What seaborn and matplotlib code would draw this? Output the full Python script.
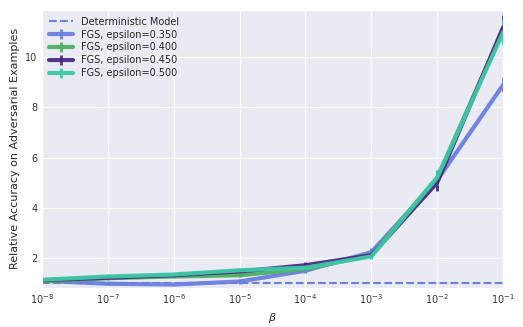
import numpy as np
import matplotlib
matplotlib.use('Agg')
import matplotlib.pyplot as plt
import seaborn as sns

sns.set_style('darkgrid')
plt.rcParams['font.family'] = ['DejaVu Sans']

beta = [1e-8, 1e-7, 1e-6, 1e-5, 1e-4, 1e-3, 1e-2, 1e-1]
labels = ['FGS, epsilon=0.350', 'FGS, epsilon=0.400', 'FGS, epsilon=0.450', 'FGS, epsilon=0.500']
colors = ['#6b7fde', '#4caf63', '#4b2c7f', '#3ec9a7']

acc_035 = [1.08, 0.96, 0.93, 1.05, 1.48, 2.22, 5.1, 8.9]
acc_040 = [1.05, 1.18, 1.25, 1.3, 1.55, 2.1, 5.2, 11.1]
acc_045 = [1.1, 1.2, 1.3, 1.45, 1.7, 2.1, 5.0, 11.2]
acc_050 = [1.12, 1.25, 1.33, 1.5, 1.6, 2.05, 5.2, 11.0]

err_035 = [0.05, 0.05, 0.04, 0.08, 0.1, 0.15, 0.3, 0.3]
err_040 = [0.05, 0.06, 0.05, 0.06, 0.08, 0.1, 0.3, 0.4]
err_045 = [0.05, 0.06, 0.05, 0.06, 0.12, 0.1, 0.35, 0.5]
err_050 = [0.05, 0.08, 0.06, 0.06, 0.08, 0.12, 0.3, 0.5]

series = [acc_035, acc_040, acc_045, acc_050]
errors = [err_035, err_040, err_045, err_050]

fig, ax = plt.subplots(figsize=(5.23, 3.27), dpi=100)

ax.axhline(1.0, color='#6b7fde', ls='--', lw=1.5, label='Deterministic Model')
for vals, errs, lab, col in zip(series, errors, labels, colors):
    ax.errorbar(beta, vals, yerr=errs, color=col, lw=3, elinewidth=2, label=lab, alpha=0.95)

ax.set_xscale('log')
ax.set_xlim(1e-8, 1e-1)
ax.set_ylim(0.8, 11.9)
ax.set_yticks([2, 4, 6, 8, 10])
ax.set_xticks(beta)
ax.tick_params(labelsize=7, colors='#333333', length=0, pad=3)
ax.set_xlabel(r'$\beta$', fontsize=8)
ax.set_ylabel('Relative Accuracy on Adversarial Examples', fontsize=8)
ax.legend(loc='upper left', fontsize=7, frameon=False, handlelength=2.5, borderaxespad=0.3, labelspacing=0.3)

plt.subplots_adjust(left=0.08, right=0.962, top=0.97, bottom=0.12)
plt.savefig('out.png', dpi=100)
plt.close()
